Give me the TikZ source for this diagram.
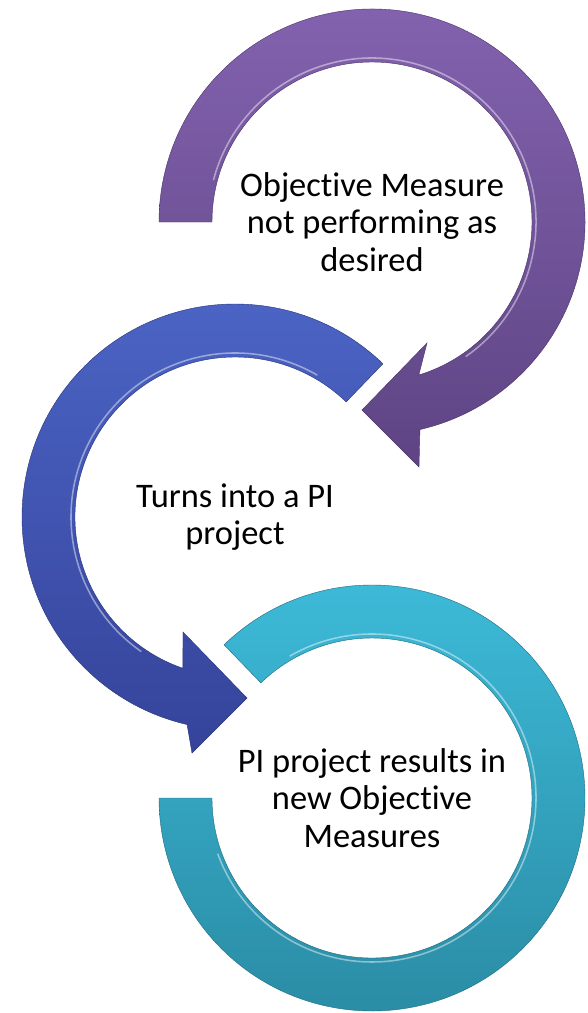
\documentclass[tikz,border=0pt]{standalone}
\usepackage{fontspec}
\setmainfont{Carlito}[Ligatures=NoCommon]
\begin{document}
\begin{tikzpicture}[x=0.05cm,y=0.05cm,
  label/.style={align=center,font=\fontsize{49}{53.5}\selectfont,text=black,inner sep=0pt},
  purplearrow/.style={top color=purpTop,bottom color=purpBot,draw=purpBot!80!black,line width=0.6},
  bluearrow/.style={top color=blueTop,bottom color=blueBot,draw=blueBot!80!black,line width=0.6},
  cyanarrow/.style={top color=cyanTop,bottom color=cyanBot,draw=cyanBot!80!black,line width=0.6},
  gloss/.style={draw=white,draw opacity=0.45,line width=2.2,line cap=round}]
\definecolor{purpTop}{HTML}{8463B0}
\definecolor{purpBot}{HTML}{5E4484}
\definecolor{blueTop}{HTML}{4C65C6}
\definecolor{blueBot}{HTML}{35439A}
\definecolor{cyanTop}{HTML}{3DBCDA}
\definecolor{cyanBot}{HTML}{2A8AA3}
\useasboundingbox (0,0) rectangle (588,-1013);

% purple circular arrow
\begin{scope}[shift={(372,-222)}]
  \path[purplearrow] (180:160) arc[start angle=180,end angle=-73,radius=160]
    -- (55,-121) -- (-10,-188) -- (47,-245) -- (-77:213)
    arc[start angle=-77,end angle=180,radius=213] -- cycle;
  \draw[gloss] (165:164) arc[start angle=165,end angle=-55,radius=164];
  \coordinate (c1) at (0,0);
\end{scope}

% blue circular arrow
\begin{scope}[shift={(235,-517)}]
  \path[bluearrow] (46:213) arc[start angle=46,end angle=257,radius=213]
    -- (-43,-236) -- (12,-181) -- (-52,-115) -- (251:160)
    arc[start angle=251,end angle=46,radius=160] -- cycle;
  \draw[gloss] (60:164) arc[start angle=60,end angle=235,radius=164];
  \coordinate (c2) at (0,0);
\end{scope}

% cyan ring
\begin{scope}[shift={(372,-798)}]
  \path[cyanarrow] (134:213) arc[start angle=134,end angle=-180,radius=213]
    -- (180:160) arc[start angle=-180,end angle=134,radius=160] -- cycle;
  \draw[gloss] (120:164) arc[start angle=120,end angle=-160,radius=164];
  \coordinate (c3) at (0,0);
\end{scope}

\node[label] (t1) at (c1) {Objective Measure\\not performing as\\desired};
\node[label] (t2) at (c2) {Turns into a PI\\project};
\node[label] (t3) at (c3) {PI project results in\\new Objective\\Measures};
\end{tikzpicture}
\end{document}
